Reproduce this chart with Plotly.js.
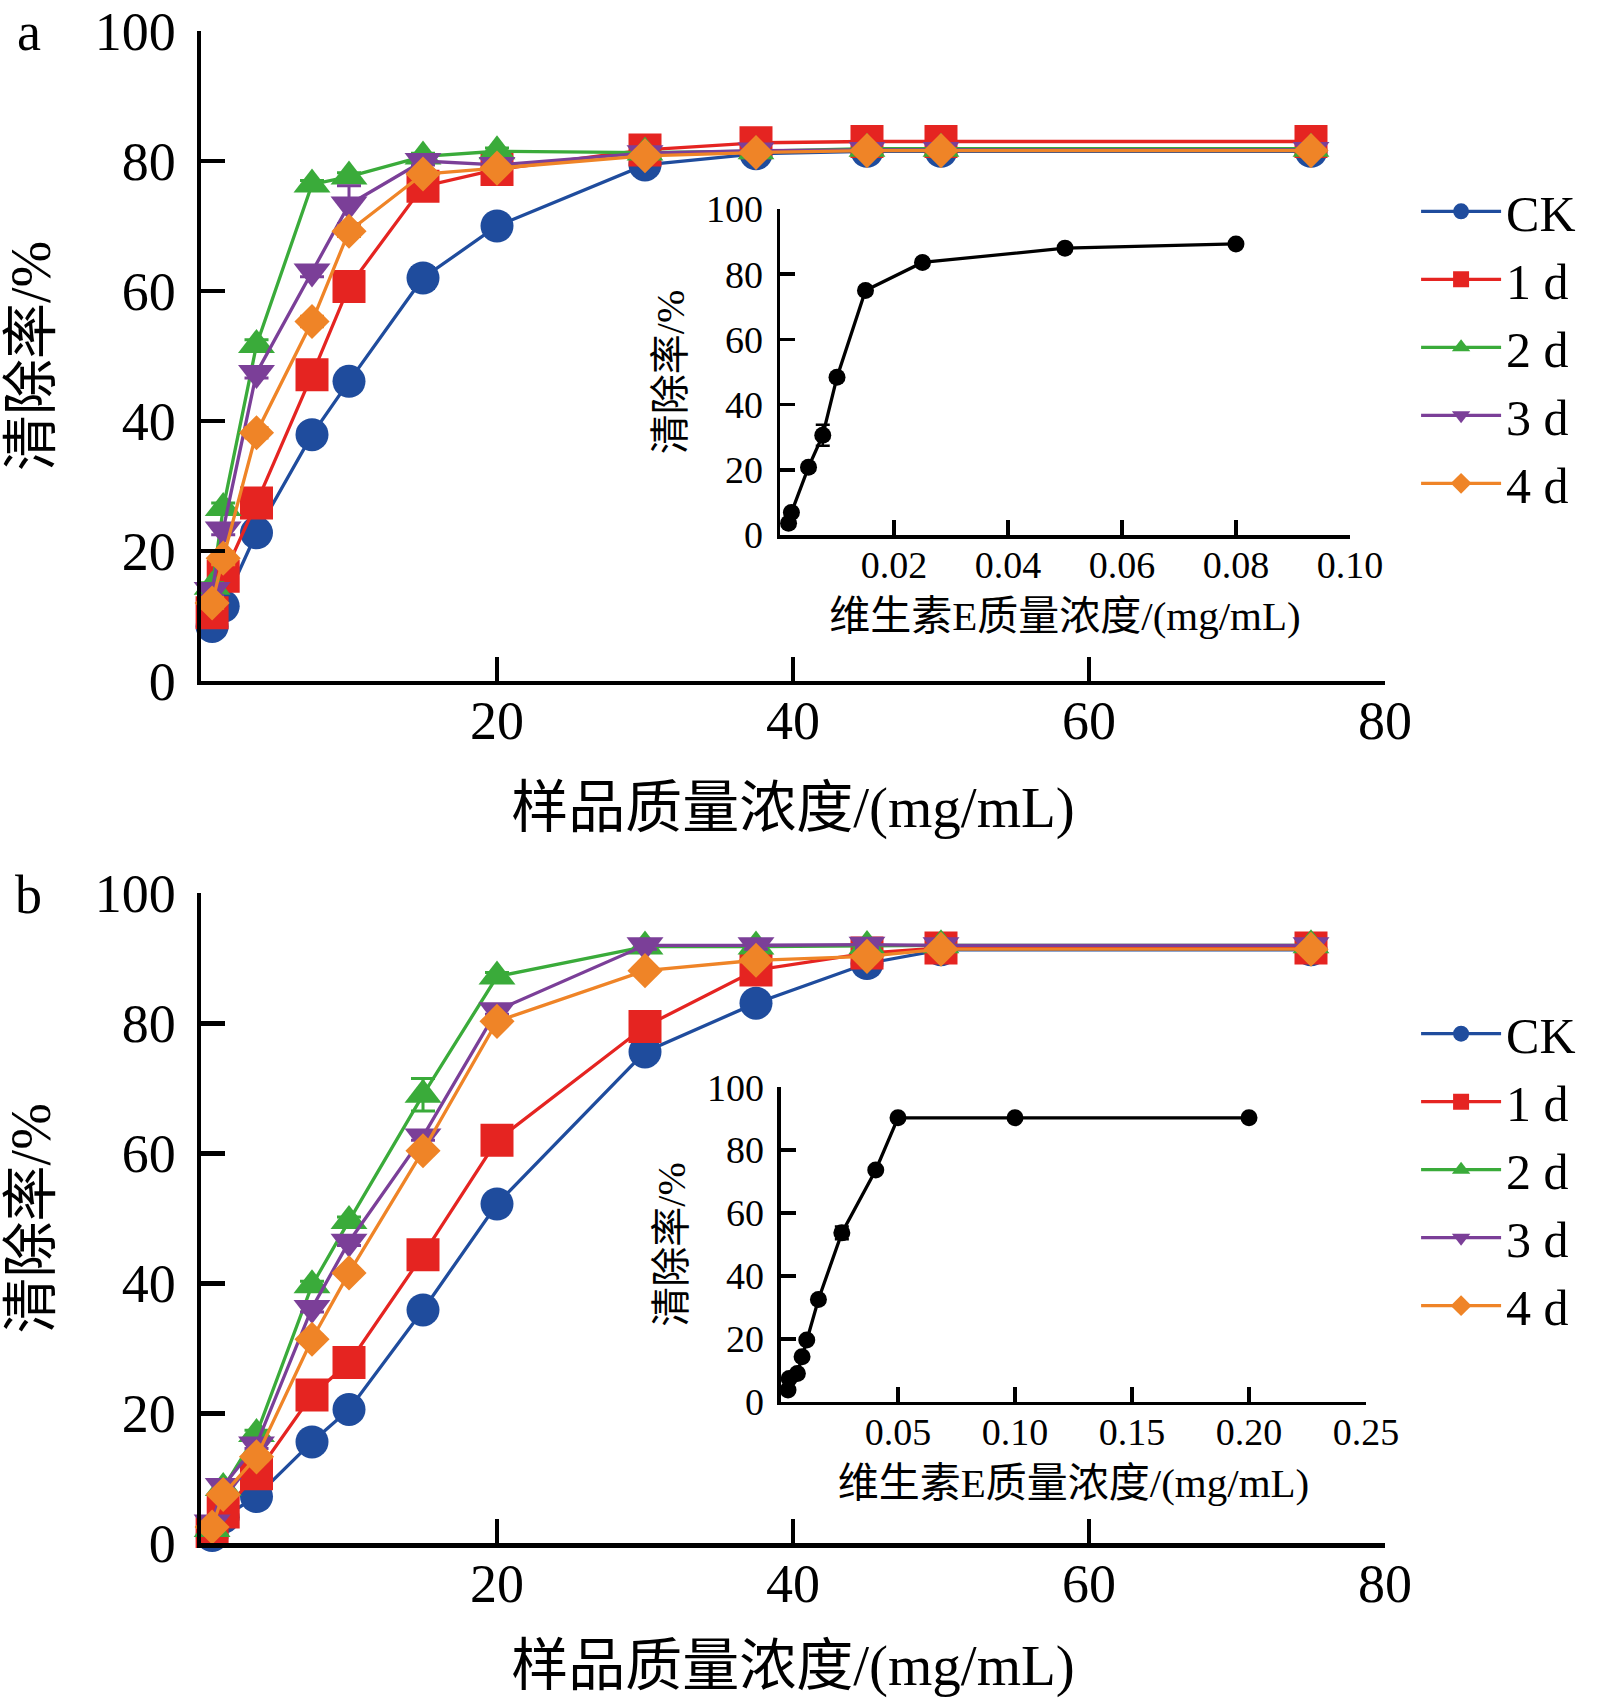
<!DOCTYPE html>
<html>
<head>
<meta charset="utf-8">
<script src="https://cdn.plot.ly/plotly-3.0.1.min.js"></script>
<style>html,body{margin:0;padding:0;background:#fff;}#chart{width:1601px;height:1698px;}</style>
</head>
<body>
<div id="chart"></div>
<script>
// ---- data ----
var seriesNames = ['CK', '1 d', '2 d', '3 d', '4 d'];
var sampleConc = [0.75, 1.5, 3.75, 7.5, 10, 15, 20, 30, 37.5, 45, 50, 75];

// panel a
var a_CK = [8.4, 11.5, 22.8, 37.9, 46.1, 62.0, 70.0, 79.4, 81.1, 81.5, 81.5, 81.5];
var a_1d = [10.5, 16.1, 27.4, 47.1, 60.7, 76.1, 78.7, 81.7, 82.8, 83.0, 83.0, 83.0];
var a_2d = [14.5, 26.6, 51.7, 76.4, 77.6, 80.7, 81.5, 81.3, 81.5, 81.9, 81.9, 81.9];
var a_3d = [14.0, 23.3, 47.4, 63.0, 73.3, 80.0, 79.4, 81.2, 81.6, 81.7, 81.7, 81.7];
var a_4d = [12.0, 18.9, 38.2, 55.3, 69.2, 78.0, 78.9, 80.8, 81.3, 81.6, 81.6, 81.6];
var a_CK_err = [0.6, 1.2, 0.8, 0.6, 0.8, 1.6, 0.8, 0.6, 0.5, 0.5, 0.5, 0.5];
var a_1d_err = [0.8, 1.0, 0.8, 0.8, 1.8, 0.8, 0.6, 0.5, 0.5, 0.5, 0.5, 0.5];
var a_2d_err = [0.6, 0.8, 0.8, 0.6, 0.6, 0.5, 0.5, 0.5, 0.5, 0.5, 0.5, 0.5];
var a_3d_err = [0.8, 0.8, 0.8, 0.8, 2.9, 0.6, 0.5, 0.5, 0.5, 0.5, 0.5, 0.5];
var a_4d_err = [0.8, 1.0, 0.8, 0.8, 0.8, 0.6, 0.5, 0.5, 0.5, 0.5, 0.5, 0.5];

// panel b
var b_CK = [1.2, 4.0, 7.2, 15.6, 20.6, 35.9, 52.2, 75.6, 83.1, 89.2, 91.3, 91.3];
var b_1d = [1.8, 4.8, 10.7, 22.8, 27.8, 44.4, 62.0, 79.5, 88.2, 90.8, 91.6, 91.6];
var b_2d = [2.2, 8.5, 16.8, 39.7, 49.6, 69.0, 87.2, 91.8, 91.8, 91.9, 92.0, 92.0];
var b_3d = [3.2, 8.8, 15.2, 36.2, 46.4, 62.6, 82.0, 92.0, 92.0, 92.1, 92.0, 92.0];
var b_4d = [2.5, 7.5, 13.3, 31.4, 41.6, 60.4, 80.3, 88.1, 89.7, 90.3, 91.4, 91.4];
var b_CK_err = [0.5, 0.6, 0.6, 0.6, 0.6, 0.6, 0.6, 0.6, 0.6, 0.5, 0.5, 0.5];
var b_1d_err = [0.5, 0.6, 0.6, 0.6, 0.6, 0.6, 0.6, 0.6, 0.6, 0.5, 0.5, 0.5];
var b_2d_err = [0.5, 0.6, 0.6, 0.6, 0.6, 2.5, 0.6, 0.6, 0.6, 0.5, 0.5, 0.5];
var b_3d_err = [0.5, 0.6, 0.6, 0.6, 0.6, 0.6, 0.6, 0.6, 0.6, 0.5, 0.5, 0.5];
var b_4d_err = [0.5, 0.6, 0.6, 0.6, 0.6, 0.6, 0.6, 0.6, 0.6, 0.5, 0.5, 0.5];

// vitamin E insets
var vitE_a_conc = [0.0015, 0.002, 0.005, 0.0075, 0.01, 0.015, 0.025, 0.05, 0.08];
var vitE_a_rate = [3.6, 6.9, 20.8, 30.6, 48.4, 75.0, 83.6, 88.0, 89.3];
var vitE_a_err  = [0.5, 0.8, 1.0, 3.2, 1.0, 1.0, 1.0, 0.8, 0.5];
var vitE_b_conc = [0.003, 0.0035, 0.007, 0.009, 0.011, 0.016, 0.026, 0.0405, 0.05, 0.1, 0.2];
var vitE_b_rate = [3.7, 7.4, 9.0, 14.3, 19.6, 32.5, 53.7, 73.7, 90.3, 90.3, 90.3];
var vitE_b_err  = [0.5, 0.5, 0.5, 0.8, 0.8, 0.8, 2.0, 0.8, 0.5, 0.5, 0.5];

var mainXTicks = [20, 40, 60, 80];
var rateTicks = [0, 20, 40, 60, 80, 100];
var insetATicks = [0.02, 0.04, 0.06, 0.08, 0.10];
var insetBTicks = [0.05, 0.10, 0.15, 0.20, 0.25];

// ---- styles ----
var colors = ['#1f4c9d', '#e52421', '#3aab3a', '#7b3f98', '#ef8427'];
var symbols = ['circle', 'square', 'triangle-up', 'triangle-down', 'diamond'];
var msizes = [33, 33, 32, 32, 27];
var FONT = '"Liberation Serif", "Times New Roman", "Noto Sans CJK SC", serif';

var aData = [a_CK, a_1d, a_2d, a_3d, a_4d];
var aErr = [a_CK_err, a_1d_err, a_2d_err, a_3d_err, a_4d_err];
var bData = [b_CK, b_1d, b_2d, b_3d, b_4d];
var bErr = [b_CK_err, b_1d_err, b_2d_err, b_3d_err, b_4d_err];

var traces = [];
function addSeries(dataArr, errArr, xa, ya, legendId) {
  for (var i = 0; i < seriesNames.length; i++) {
    traces.push({
      type: 'scatter', mode: 'lines+markers',
      x: sampleConc, y: dataArr[i], name: seriesNames[i],
      xaxis: xa, yaxis: ya, legend: legendId,
      cliponaxis: false,
      line: {color: colors[i], width: 3.3},
      marker: {symbol: symbols[i], size: msizes[i], color: colors[i], line: {width: 0}},
      error_y: {type: 'data', array: errArr[i], visible: true, color: colors[i], thickness: 3, width: 12}
    });
  }
}
addSeries(aData, aErr, 'x', 'y', 'legend');
addSeries(bData, bErr, 'x3', 'y3', 'legend2');

function addInset(xs, ys, es, xa, ya) {
  traces.push({
    type: 'scatter', mode: 'lines+markers', x: xs, y: ys,
    xaxis: xa, yaxis: ya, showlegend: false, cliponaxis: false,
    line: {color: '#000', width: 3.3},
    marker: {symbol: 'circle', size: 17, color: '#000'},
    error_y: {type: 'data', array: es, visible: true, color: '#000', thickness: 2.5, width: 7}
  });
}
addInset(vitE_a_conc, vitE_a_rate, vitE_a_err, 'x2', 'y2');
addInset(vitE_b_conc, vitE_b_rate, vitE_b_err, 'x4', 'y4');

function mainX(dom, anchor) {
  return {
    domain: dom, anchor: anchor, range: [0, 80], tickvals: mainXTicks,
    showline: true, linewidth: 4.5, linecolor: '#000', mirror: false,
    ticks: 'inside', ticklen: 24, tickwidth: 4.5, tickcolor: '#000',
    showgrid: false, zeroline: false, ticklabelstandoff: -11, ticklabeloverflow: 'allow',
    tickfont: {family: FONT, size: 54, color: '#000'},
    title: {text: '样品质量浓度/(mg/mL)', font: {family: FONT, size: 57, color: '#000'}, standoff: 38}
  };
}
function mainY(dom, anchor) {
  return {
    domain: dom, anchor: anchor, range: [0, 100], tickvals: rateTicks,
    showline: true, linewidth: 4.5, linecolor: '#000',
    ticks: 'inside', ticklen: 24, tickwidth: 4.5, tickcolor: '#000',
    showgrid: false, zeroline: false, ticklabelstandoff: 10, ticklabeloverflow: 'allow',
    tickfont: {family: FONT, size: 54, color: '#000'},
    title: {text: '清除率/%', font: {family: FONT, size: 56, color: '#000'}, standoff: 30}
  };
}
function insetX(dom, anchor, rng, tv) {
  return {
    domain: dom, anchor: anchor, range: rng, tickvals: tv, tickformat: '.2f',
    showline: true, linewidth: 3.5, linecolor: '#000',
    ticks: 'inside', ticklen: 15, tickwidth: 3.5, tickcolor: '#000',
    showgrid: false, zeroline: false, ticklabelstandoff: -6, ticklabeloverflow: 'allow',
    tickfont: {family: FONT, size: 38, color: '#000'},
    title: {text: '维生素E质量浓度/(mg/mL)', font: {family: FONT, size: 41, color: '#000'}, standoff: 17}
  };
}
function insetY(dom, anchor) {
  return {
    domain: dom, anchor: anchor, range: [0, 100], tickvals: rateTicks,
    showline: true, linewidth: 3.5, linecolor: '#000',
    ticks: 'inside', ticklen: 15, tickwidth: 3.5, tickcolor: '#000',
    showgrid: false, zeroline: false, ticklabelstandoff: 6, ticklabeloverflow: 'allow',
    tickfont: {family: FONT, size: 38, color: '#000'},
    title: {text: '清除率/%', font: {family: FONT, size: 40, color: '#000'}, standoff: 10}
  };
}

var legendBase = {
  xanchor: 'left', yanchor: 'top', bgcolor: 'rgba(0,0,0,0)', borderwidth: 0,
  itemwidth: 80,
  font: {family: FONT, size: 50, color: '#000'}, itemclick: false, itemdoubleclick: false
};

var layout = {
  width: 1601, height: 1698,
  margin: {l: 0, r: 0, t: 0, b: 0},
  paper_bgcolor: '#fff', plot_bgcolor: 'rgba(0,0,0,0)',
  font: {family: FONT, color: '#000'},
  showlegend: true,
  xaxis: mainX([0.12555, 0.86508], 'y'),
  yaxis: mainY([0.59894, 0.98174], 'x'),
  xaxis2: insetX([0.4872, 0.8432], 'y2', [0, 0.10], insetATicks),
  yaxis2: insetY([0.68492, 0.87691], 'x2'),
  xaxis3: mainX([0.12555, 0.86508], 'y3'),
  yaxis3: mainY([0.09111, 0.47391], 'x3'),
  xaxis4: insetX([0.48782, 0.85322], 'y4', [0, 0.25], insetBTicks),
  yaxis4: insetY([0.17450, 0.35966], 'x4'),
  legend: Object.assign({x: 0.8845, y: 0.8985}, legendBase),
  legend2: Object.assign({x: 0.8845, y: 0.4142}, legendBase),
  annotations: [
    {text: 'a', xref: 'paper', yref: 'paper', x: 0.0181, y: 1.0, xanchor: 'center', yanchor: 'top', showarrow: false, font: {family: FONT, size: 54, color: '#000'}},
    {text: 'b', xref: 'paper', yref: 'paper', x: 0.0181, y: 0.4729, xanchor: 'center', yanchor: 'middle', showarrow: false, font: {family: FONT, size: 54, color: '#000'}}
  ]
};

Plotly.newPlot('chart', traces, layout, {staticPlot: true, displayModeBar: false});
</script>
</body>
</html>
